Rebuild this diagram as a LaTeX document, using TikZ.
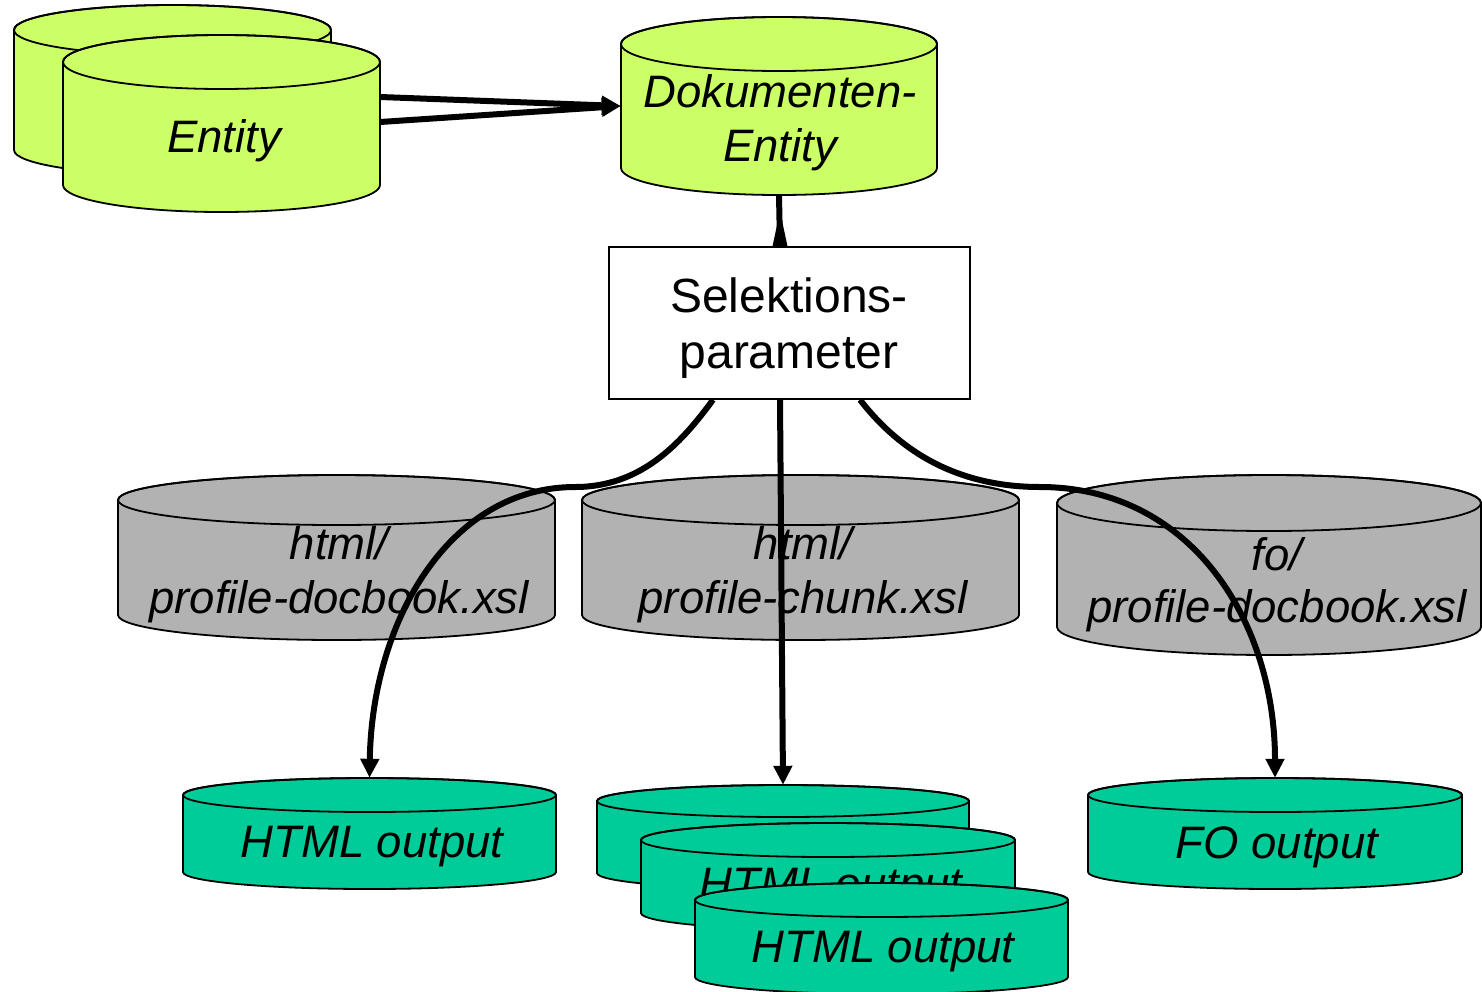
\documentclass[tikz,border=0pt]{standalone}
\usepackage{fontspec}
\setmainfont{Liberation Sans}
\usetikzlibrary{arrows.meta,calc}
\definecolor{lime}{HTML}{CCFF66}
\definecolor{grayc}{HTML}{B2B2B2}
\definecolor{teal}{HTML}{00CC99}
\newcommand\drum[7]{%
  \pgfmathsetmacro\drx{(#3-#2)/2}%
  \pgfmathsetmacro\dcx{(#3+#2)/2}%
  \pgfmathsetmacro\dyt{#4+#6}%
  \pgfmathsetmacro\dyb{#5-#6}%
  \pgfmathsetmacro\dcy{(#4+#5)/2}%
  \filldraw[drumline,fill=#7] (#2,\dyt) -- (#2,\dyb) arc[start angle=180,end angle=0,x radius=\drx,y radius=#6] -- (#3,\dyt) arc[start angle=0,end angle=-180,x radius=\drx,y radius=#6] -- cycle;
  \draw[drumline] (\dcx,\dyt) ellipse[x radius=\drx,y radius=#6];
  \node[inner sep=0pt,minimum width={#3-#2},minimum height={#5-#4}] (#1) at (\dcx,\dcy) {};
}
\tikzset{
  drumline/.style={line width=1.8pt,line join=round},
  txt/.style={font=\fontsize{45.5}{54}\selectfont\itshape,align=center,inner sep=0pt},
  txtup/.style={font=\fontsize{48}{56}\selectfont,align=center,inner sep=0pt},
  conn/.style={line width=6pt,-{Triangle[length=19pt,width=18pt]}},
}
\begin{document}
\begin{tikzpicture}[x=1pt,y=-1pt]
\useasboundingbox[fill=white] (0,0) rectangle (1482,991);
% Entities
\drum{entB}{14}{331}{5}{175}{25}{lime}
\drum{ent}{63}{380}{35}{212}{27}{lime}
\node[txt] (entT) at (224,141) {Entity};
\drum{dok}{621}{937}{17}{195}{27}{lime}
\node[txt] (dokT) at (780,123) {Dokumenten-\\Entity};
% Selection box
\node[draw,line width=1.5pt,fill=white,minimum width=361pt,minimum height=152pt,inner sep=0pt] (sel) at (789.5,323) {};
\node[txtup] (selT) at (789,328) {Selektions-\\parameter};
% stylesheets
\drum{xa}{118}{555}{475}{640}{25}{grayc}
\node[txt] (xaT) at (339,575) {html/\\profile-docbook.xsl};
\drum{xb}{582}{1019}{475}{640}{25}{grayc}
\node[txt] (xbT) at (803,575) {html/\\profile-chunk.xsl};
\drum{xc}{1057}{1481}{475}{655}{28}{grayc}
\node[txt,font=\fontsize{45.5}{52}\selectfont\itshape] (xcT) at (1277,585) {fo/\\profile-docbook.xsl};
% outputs
\drum{ha}{183}{556}{778}{889}{17}{teal}
\node[txt] (haT) at (372,847) {HTML output};
\drum{fo}{1088}{1462}{778}{889}{17}{teal}
\node[txt] (foT) at (1277,847) {FO output};
\drum{hb}{597}{969}{785}{889}{16}{teal}
\drum{hc}{641}{1015}{823}{930}{17}{teal}
\node[txt] (hcT) at (831,889) {HTML output};
\drum{hd}{695}{1068}{883}{994}{17}{teal}
\node[txt] (hdT) at (883,952) {HTML output};
% connectors
\draw[conn] ([yshift=26.5pt]ent.east) -- (dok.west);
\draw[conn] ([yshift=1.5pt]ent.east) -- (dok.west);
\draw[line width=6pt] (dok.south) -- ([xshift=-9.5pt]sel.north);
\fill ([xshift=-17pt]sel.north) -- ([xshift=-2pt]sel.north) -- ([xshift=-9.5pt,yshift=35pt]sel.north) -- cycle;
\coordinate (lm) at (575,487);
\coordinate (rm) at (1040,487);
\draw[conn] ([xshift=-76.5pt]sel.south) .. controls (680,445) and (640,487) .. (lm)
  .. controls (450,487) and (372,620) .. (ha.north);
\draw[conn] ([xshift=-9.5pt]sel.south) -- (hb.north);
\draw[conn] ([xshift=70.5pt]sel.south) .. controls (895,445) and (950,487) .. (rm)
  .. controls (1190,487) and (1275,620) .. (fo.north);
\end{tikzpicture}
\end{document}
